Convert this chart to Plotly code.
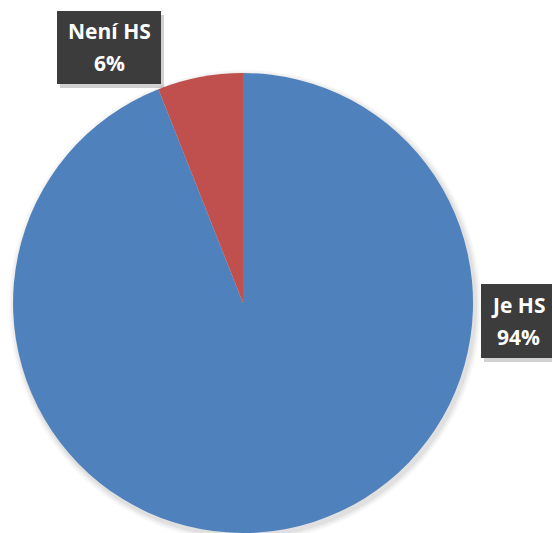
import plotly.graph_objects as go

labels = ["Je HS", "Není HS"]
values = [94, 6]
colors = ["#4F81BD", "#C0504D"]

W, H = 552, 533

fig = go.Figure()
fig.add_trace(go.Pie(
    labels=labels,
    values=values,
    marker=dict(colors=colors, line=dict(width=0)),
    sort=False,
    direction="clockwise",
    rotation=0,
    textinfo="none",
    hoverinfo="label+percent",
    showlegend=False,
    domain=dict(x=[0.0236, 0.857], y=[0.0, 0.863]),
))

total = sum(values)
# label boxes in pixels from top-left: x0, y0, x1, y1, text centre x, line1 y, line2 y
box_layout = {
    "Není HS": (57, 11, 161, 84, 109, 31, 63),
    "Je HS": (481, 284, 560, 358, 518, 305, 337),
}
shapes = []
annotations = []

# subtle pie shadow
cxp, cyp, r = 243, 303, 230
for i, a in enumerate([0.05, 0.04, 0.03]):
    d = 2 + i * 2
    shapes.append(dict(type="circle", xref="paper", yref="paper",
                       x0=(cxp - r - d + 2) / W, x1=(cxp + r + d + 2) / W,
                       y0=1 - (cyp + r + d + 3) / H, y1=1 - (cyp - r - d + 3) / H,
                       fillcolor=f"rgba(0,0,0,{a})", line=dict(width=0), layer="below"))

for lab, val in zip(labels, values):
    x0, y0, x1, y1, cx, ly1, ly2 = box_layout[lab]
    shapes.append(dict(type="rect", xref="paper", yref="paper",
                       x0=(x0 + 3) / W, x1=(x1 + 3) / W, y0=1 - (y1 + 4) / H, y1=1 - (y0 + 4) / H,
                       fillcolor="rgba(0,0,0,0.18)", line=dict(width=0), layer="above"))
    shapes.append(dict(type="rect", xref="paper", yref="paper",
                       x0=x0 / W, x1=x1 / W, y0=1 - y1 / H, y1=1 - y0 / H,
                       fillcolor="#3c3c3c", line=dict(width=0), layer="above"))
    pct = round(100 * val / total)
    for txt, ly in ((lab, ly1), (f"{pct}%", ly2)):
        annotations.append(dict(text=f"<b>{txt}</b>", x=cx / W, y=1 - ly / H,
                                xref="paper", yref="paper", showarrow=False,
                                xanchor="center", yanchor="middle",
                                font=dict(family="Open Sans", size=21, color="white")))

fig.update_layout(
    width=W, height=H,
    margin=dict(l=0, r=0, t=0, b=0),
    paper_bgcolor="white",
    plot_bgcolor="white",
    shapes=shapes,
    annotations=annotations,
)

fig.write_html(
    "out.html",
    config={"displayModeBar": False},
    post_script="document.body.style.margin='0';document.body.style.overflow='hidden';",
)
